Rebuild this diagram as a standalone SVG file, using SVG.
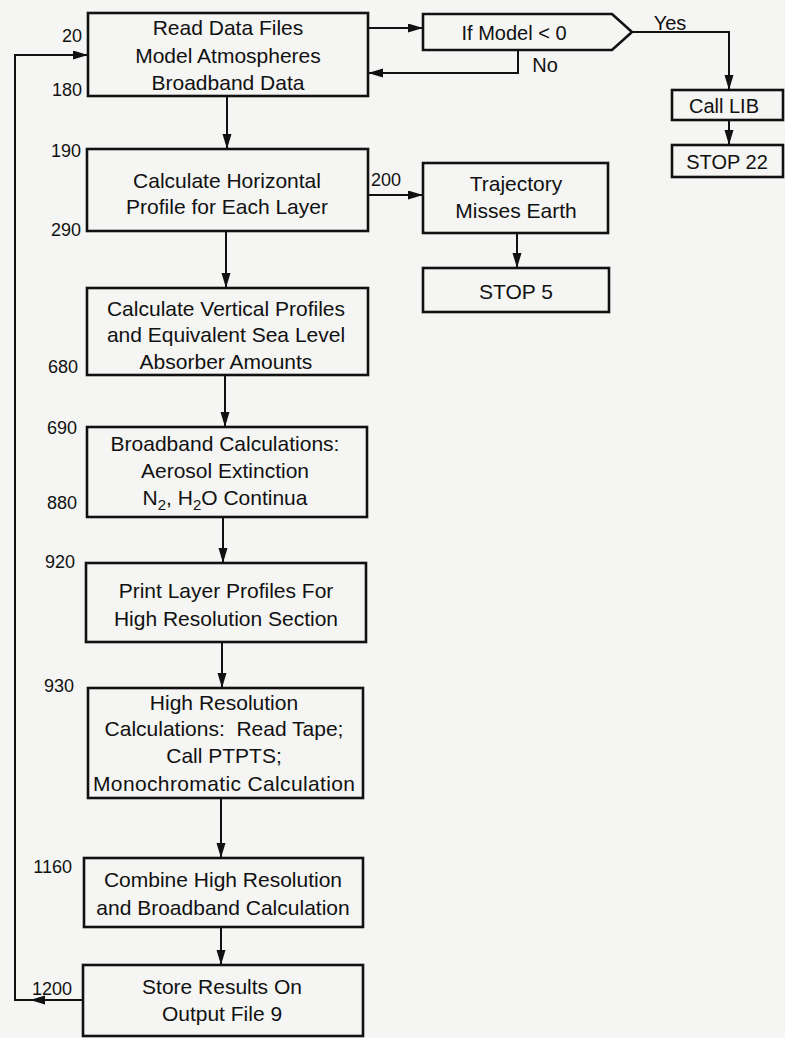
<svg xmlns="http://www.w3.org/2000/svg" width="785" height="1038" viewBox="0 0 785 1038">
<defs>
<marker id="ah" markerUnits="userSpaceOnUse" markerWidth="16" markerHeight="10" refX="15" refY="4.5" orient="auto">
<path d="M0,0 L15,4.5 L0,9 z" fill="#111"/>
</marker>
<style>
.box{fill:none;stroke:#111;stroke-width:2.6}
.con{fill:none;stroke:#111;stroke-width:2}
.t{font-family:"Liberation Sans",Arial,sans-serif;font-size:21px;fill:#111;text-anchor:middle}
.n{font-family:"Liberation Sans",Arial,sans-serif;font-size:18px;fill:#111;text-anchor:end}
.s{font-size:15px}
</style>
</defs>
<rect width="785" height="1038" fill="#f5f5f3"/>
<g id="connectors">
<path class="con" d="M227,96 V149" marker-end="url(#ah)"/>
<path class="con" d="M226,231 V288" marker-end="url(#ah)"/>
<path class="con" d="M225,375 V427" marker-end="url(#ah)"/>
<path class="con" d="M223,517 V563" marker-end="url(#ah)"/>
<path class="con" d="M222,642 V688" marker-end="url(#ah)"/>
<path class="con" d="M221,798 V858" marker-end="url(#ah)"/>
<path class="con" d="M221,927 V965" marker-end="url(#ah)"/>
<path class="con" d="M368,28 H423" marker-end="url(#ah)"/>
<path class="con" d="M518,50 V73 H368" marker-end="url(#ah)"/>
<path class="con" d="M632,32 H729 V90" marker-end="url(#ah)"/>
<path class="con" d="M729,120 V145" marker-end="url(#ah)"/>
<path class="con" d="M368,195 H423" marker-end="url(#ah)"/>
<path class="con" d="M517,233 V268" marker-end="url(#ah)"/>
<path class="con" d="M83,1000 H30" marker-end="url(#ah)"/>
<path class="con" d="M31,1000 H15 V55 H88" marker-end="url(#ah)"/>
<text class="t" x="545" y="72" style="font-size:20px">No</text>
<text class="t" x="670" y="30" style="font-size:20px">Yes</text>
<text class="n" x="401" y="186">200</text>
</g>
<g id="read-data">
<rect class="box" x="88" y="13" width="280" height="83"/>
<text class="t" x="228" y="35">Read Data Files</text>
<text class="t" x="228" y="63">Model Atmospheres</text>
<text class="t" x="228" y="90">Broadband Data</text>
<text class="n" x="82" y="42">20</text>
<text class="n" x="82" y="96">180</text>
</g>
<g id="if-model">
<polygon class="box" points="423,14 612,14 632,32 612,50 423,50"/>
<text class="t" x="514" y="40" style="font-size:20px">If Model &lt; 0</text>
</g>
<g id="call-lib">
<rect class="box" x="672" y="90" width="111" height="30"/>
<text class="t" x="724" y="113" style="font-size:20px">Call LIB</text>
</g>
<g id="stop22">
<rect class="box" x="672" y="145" width="111" height="32"/>
<text class="t" x="727" y="169" style="font-size:20px">STOP 22</text>
</g>
<g id="horizontal">
<rect class="box" x="87" y="149" width="281" height="82"/>
<text class="t" x="227" y="188">Calculate Horizontal</text>
<text class="t" x="227" y="214">Profile for Each Layer</text>
<text class="n" x="81" y="157">190</text>
<text class="n" x="81" y="236">290</text>
</g>
<g id="trajectory">
<rect class="box" x="423" y="163" width="185" height="70"/>
<text class="t" x="516" y="191">Trajectory</text>
<text class="t" x="516" y="218">Misses Earth</text>
</g>
<g id="stop5">
<rect class="box" x="423" y="268" width="186" height="44"/>
<text class="t" x="516" y="299">STOP 5</text>
</g>
<g id="vertical">
<rect class="box" x="87" y="288" width="281" height="87"/>
<text class="t" x="226" y="316">Calculate Vertical Profiles</text>
<text class="t" x="226" y="342">and Equivalent Sea Level</text>
<text class="t" x="226" y="369">Absorber Amounts</text>
<text class="n" x="78" y="373">680</text>
</g>
<g id="broadband">
<rect class="box" x="87" y="427" width="280" height="90"/>
<text class="t" x="225" y="451">Broadband Calculations:</text>
<text class="t" x="225" y="478">Aerosol Extinction</text>
<text class="t" x="225" y="505">N<tspan class="s" dy="5">2</tspan><tspan dy="-5">, H</tspan><tspan class="s" dy="5">2</tspan><tspan dy="-5">O Continua</tspan></text>
<text class="n" x="77" y="434">690</text>
<text class="n" x="77" y="509">880</text>
</g>
<g id="print-layer">
<rect class="box" x="86" y="563" width="280" height="79"/>
<text class="t" x="226" y="598">Print Layer Profiles For</text>
<text class="t" x="226" y="626">High Resolution Section</text>
<text class="n" x="75" y="568">920</text>
</g>
<g id="high-res">
<rect class="box" x="88" y="688" width="275" height="110"/>
<text class="t" x="224" y="710">High Resolution</text>
<text class="t" x="224" y="736">Calculations:&#160; Read Tape;</text>
<text class="t" x="224" y="763">Call PTPTS;</text>
<text class="t" x="224" y="791" textLength="262" lengthAdjust="spacing">Monochromatic Calculation</text>
<text class="n" x="74" y="692">930</text>
</g>
<g id="combine">
<rect class="box" x="84" y="858" width="279" height="69"/>
<text class="t" x="223" y="887">Combine High Resolution</text>
<text class="t" x="223" y="915">and Broadband Calculation</text>
<text class="n" x="72" y="873">1160</text>
</g>
<g id="store">
<rect class="box" x="83" y="965" width="280" height="71"/>
<text class="t" x="222" y="994">Store Results On</text>
<text class="t" x="222" y="1021">Output File 9</text>
<text class="n" x="72" y="995">1200</text>
</g>
</svg>
